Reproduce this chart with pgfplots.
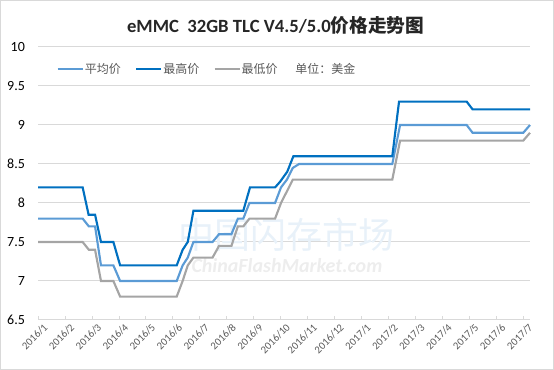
\documentclass[border=0pt]{standalone}
\usepackage{fontspec}
\usepackage{pgfplots}
\pgfplotsset{compat=1.18}
\setmainfont{Carlito}
\newfontfamily\cjk{Noto Sans CJK SC}
\definecolor{cavg}{RGB}{91,155,213}
\definecolor{cmax}{RGB}{0,112,192}
\definecolor{cmin}{RGB}{165,165,165}
\definecolor{txtgray}{RGB}{89,89,89}
\definecolor{gridc}{RGB}{217,217,217}
\begin{document}
\begin{tikzpicture}
\useasboundingbox (0,0) rectangle (415.5pt,277.5pt);
\draw[color=gridc, line width=0.75pt] (0.6pt,0.6pt) rectangle (414.9pt,276.9pt);
\node[font=\bfseries\fontsize{14}{16}\selectfont, text=black!85] at (206.7pt,258.75pt) {eMMC\ \ 32GB TLC V4.5/5.0{\cjk\bfseries 价格走势图}};
\begin{axis}[
  at={(28.65pt,37.5pt)}, anchor=south west,
  scale only axis, width=368.85pt, height=204.75pt,
  xmin=0, xmax=18.25, ymin=6.5, ymax=10,
  clip=false,
  axis x line*=bottom, axis y line*=left,
  x axis line style={draw=gridc, line width=0.75pt},
  y axis line style={draw=none},
  ytick={6.5,7,7.5,8,8.5,9,9.5,10},
  ytick style={draw=none},
  xtick={0,...,18},
  xticklabels={2016/1,2016/2,2016/3,2016/4,2016/5,2016/6,2016/7,2016/8,2016/9,2016/10,2016/11,2016/12,2017/1,2017/2,2017/3,2017/4,2017/5,2017/6,2017/7},
  xtick style={draw=gridc, line width=0.75pt},
  tick align=inside, major tick length=3pt,
  ymajorgrids, grid style={draw=gridc, line width=0.75pt},
  /pgf/number format/assume math mode=true,
  yticklabel style={font=\fontsize{10.5}{12}\selectfont, text=black, inner sep=0pt, anchor=east, xshift=-9.75pt},
  xticklabel style={font=\fontsize{8}{9}\selectfont, text=txtgray, inner sep=0pt, rotate=45, anchor=east, xshift=1.1pt, yshift=-7pt},
  legend columns=-1,
  legend style={at={(0.037,0.918)}, anchor=west, draw=none, fill=none, inner sep=0pt,
    font=\cjk\fontsize{9}{11}\selectfont, text=txtgray,
    nodes={inner sep=0.6pt},
    /tikz/every even column/.append style={column sep=10pt}},
  legend image code/.code={\draw[#1] (0pt,0pt) -- (19pt,0pt);},
]
\node[text=cavg!14, font=\cjk\fontsize{27}{30}\selectfont] at (axis cs:9.23,7.59) {中国闪存市场};
\node[text=black!7, font=\bfseries\itshape\fontsize{15}{17}\selectfont] at (axis cs:9.23,7.2) {ChinaFlashMarket.com};

\addplot[cavg, line width=1.6pt] coordinates {
(0,7.8) (1.65,7.8) (1.88,7.7) (2.11,7.7) (2.33,7.2) (2.79,7.2) (3.04,7.0)
(5.14,7.0) (5.36,7.2) (5.55,7.3) (5.76,7.5) (6.47,7.5) (6.71,7.6) (7.17,7.6)
(7.41,7.8) (7.61,7.8) (7.84,8.0) (8.79,8.0) (9.01,8.2) (9.23,8.3) (9.45,8.45)
(9.68,8.5) (13.14,8.5) (13.43,9.0) (15.90,9.0) (16.12,8.9) (18.0,8.9) (18.25,9.0)};
\addlegendentry{平均价}
\addplot[cmax, line width=1.6pt] coordinates {
(0,8.2) (1.65,8.2) (1.87,7.85) (2.11,7.85) (2.33,7.5) (2.79,7.5) (3.04,7.2)
(5.14,7.2) (5.36,7.4) (5.55,7.5) (5.76,7.9) (7.61,7.9) (7.86,8.2) (8.79,8.2)
(8.97,8.27) (9.24,8.4) (9.47,8.6) (13.14,8.6) (13.39,9.3) (15.90,9.3)
(16.12,9.2) (18.25,9.2)};
\addlegendentry{最高价}
\addplot[cmin, line width=1.6pt] coordinates {
(0,7.5) (1.65,7.5) (1.88,7.4) (2.11,7.4) (2.33,7.0) (2.79,7.0) (3.04,6.8)
(5.14,6.8) (5.36,7.0) (5.55,7.2) (5.76,7.3) (6.47,7.3) (6.71,7.45) (7.17,7.45)
(7.41,7.7) (7.61,7.7) (7.84,7.8) (8.79,7.8) (9.01,8.0) (9.23,8.15) (9.45,8.3)
(13.14,8.3) (13.43,8.8) (18.0,8.8) (18.25,8.9)};
\addlegendentry{最低价}
\addlegendimage{empty legend}
\addlegendentry{\hspace{2pt}单位：美金}
\end{axis}
\end{tikzpicture}
\end{document}
